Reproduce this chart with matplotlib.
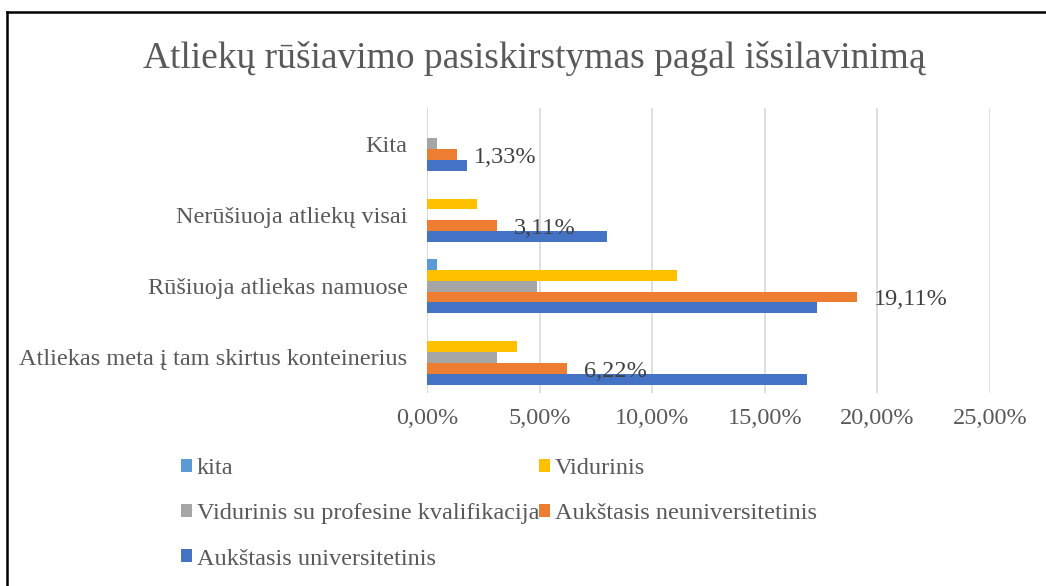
import matplotlib
matplotlib.use("Agg")
import matplotlib.pyplot as plt
from matplotlib.lines import Line2D
from matplotlib.patches import Patch
import numpy as np

plt.rcParams['font.family'] = ['Liberation Serif', 'DejaVu Serif']

categories = ["Atliekas meta į tam skirtus konteinerius",
              "Rūšiuoja atliekas namuose",
              "Nerūšiuoja atliekų visai",
              "Kita"]
series_names = ["Aukštasis universitetinis",
                "Aukštasis neuniversitetinis",
                "Vidurinis su profesine kvalifikacija",
                "Vidurinis",
                "kita"]
aukst_univ = [16.89, 17.33, 8.00, 1.78]
aukst_neuniv = [6.22, 19.11, 3.11, 1.33]
vid_prof = [3.11, 4.89, 0.0, 0.44]
vidurinis = [4.00, 11.11, 2.22, 0.0]
kita = [0.0, 0.44, 0.0, 0.0]
values = [aukst_univ, aukst_neuniv, vid_prof, vidurinis, kita]
colors = ["#4472C4", "#ED7D31", "#A5A5A5", "#FFC000", "#5B9BD5"]
label_texts = ["6,22%", "19,11%", "3,11%", "1,33%"]
xticks = [0, 5, 10, 15, 20, 25]
xtick_labels = ["0,00%", "5,00%", "10,00%", "15,00%", "20,00%", "25,00%"]

txt = "#595959"
fs = 17.5
W, H = 1046, 586
fig = plt.figure(figsize=(W / 100, H / 100), dpi=100)
ax = fig.add_axes([427 / W, 1 - 393 / H, (990 - 427) / W, (393 - 108) / H])

y = np.arange(len(categories))
h = 0.153
for i, (name, vals, c) in enumerate(zip(series_names, values, colors)):
    off = (i - 2) * h
    ax.barh(y + off, vals, height=h, color=c, label=name, zorder=3)
    if i == 1:
        for yy, v, t in zip(y, vals, label_texts):
            ax.annotate(t, (v, yy + off), xytext=(12, -2), textcoords='offset points',
                        ha='left', va='center', fontsize=fs, color="#404040", zorder=4)

ax.set_xlim(0, 25)
ax.set_ylim(-0.5, 3.5)
ax.set_xticks(xticks)
ax.set_xticklabels(xtick_labels)
ax.set_yticks(y)
ax.set_yticklabels(categories)
ax.tick_params(axis='both', length=0, labelsize=fs, labelcolor=txt)
ax.tick_params(axis='x', pad=11)
ax.tick_params(axis='y', pad=14)
ax.grid(axis='x', color="#D9D9D9", linewidth=1.2, zorder=0)
for s in ax.spines.values():
    s.set_visible(False)
ax.axvline(0, color="#D9D9D9", linewidth=1.2, zorder=2)

fig.text(534 / W, 1 - 58 / H, "Atliekų rūšiavimo pasiskirstymas pagal išsilavinimą",
         ha='center', va='center', fontsize=27, color=txt)

order = ["kita", "Vidurinis su profesine kvalifikacija", "Aukštasis universitetinis",
         "Vidurinis", "Aukštasis neuniversitetinis"]
leg_handles = [Patch(facecolor=colors[series_names.index(n)]) for n in order]
leg = fig.legend(leg_handles, order, loc='upper left', bbox_to_anchor=(181 / W, 1 - 458 / H),
                 ncol=2, frameon=False, fontsize=fs, handlelength=0.45, handleheight=0.45,
                 handletextpad=0.2, columnspacing=0.0, labelspacing=1.0, borderaxespad=0,
                 borderpad=0)
for t in leg.get_texts():
    t.set_color(txt)

# partial outer border (left and top)
fig.add_artist(Line2D([7 / W, 7 / W], [0, 1 - 12 / H], color='black', linewidth=1.8,
                      transform=fig.transFigure))
fig.add_artist(Line2D([7 / W, 1], [1 - 12 / H, 1 - 12 / H], color='black', linewidth=1.8,
                      transform=fig.transFigure))

fig.savefig("out.png", dpi=100)
